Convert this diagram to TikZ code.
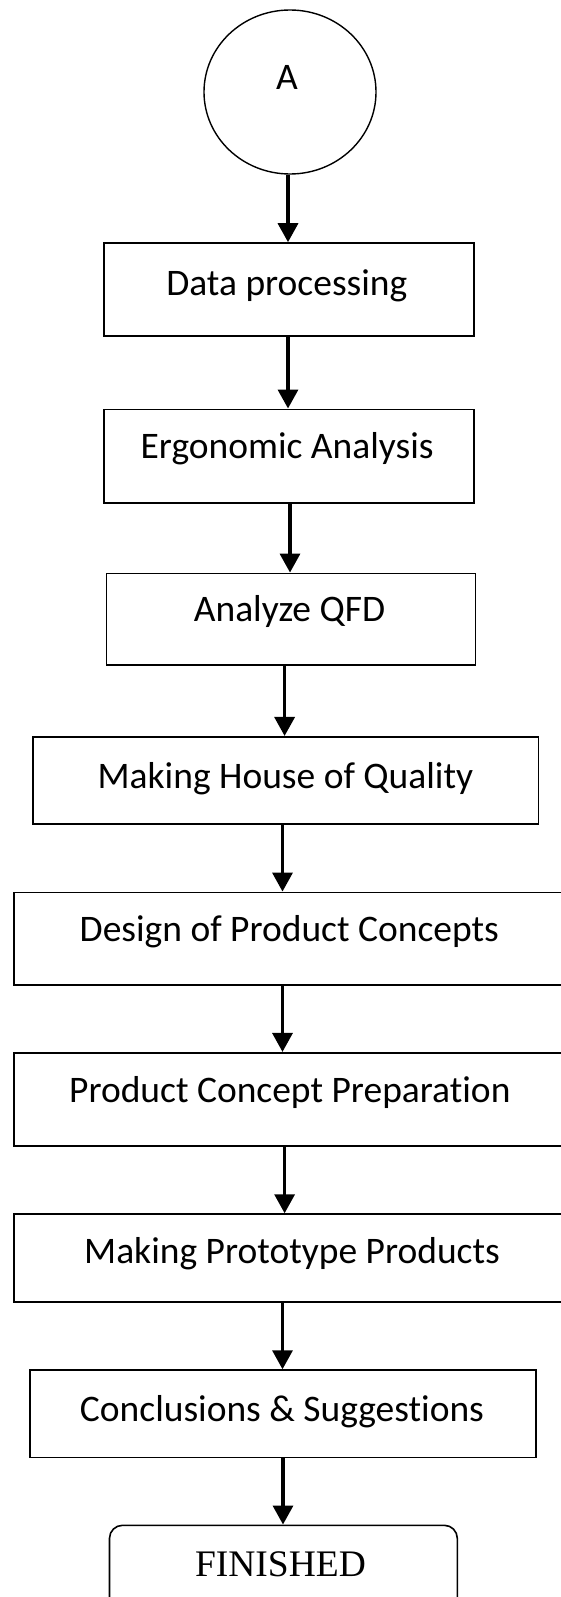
\documentclass[tikz,border=0pt]{standalone}
\usepackage{fontspec}
\setmainfont{Carlito}[Ligatures={NoCommon}]
\newfontfamily\finfont{Liberation Serif}
\newcommand{\nolig}{\kern0pt }
\usetikzlibrary{arrows.meta,shapes.geometric}
\begin{document}
\begin{tikzpicture}[x=1pt,y=-1pt,
  stepbox/.style={draw=black, line width=1.6pt, rectangle, inner sep=0pt},
  lbl/.style={anchor=base, inner sep=0pt, font=\fontsize{37.5}{40}\selectfont},
  arr/.style={line width=3.4pt, -{Triangle[width=20pt,length=19pt]}}]
\useasboundingbox (0,0) rectangle (561,1597);
\clip (0,0) rectangle (561,1597);
\fill[white] (0,0) rectangle (561,1597);

\node[draw, ellipse, line width=1.4pt, minimum width=172pt, minimum height=164pt, inner sep=0pt] (c) at (290,92) {};
\node[lbl] (tA) at (287,89.3) {A};

\node[stepbox, minimum width=370pt, minimum height=93pt] (b1) at (288.75,289.5) {};
\node[lbl] (t1) at (286.8,295) {Data processing};

\node[stepbox, minimum width=370pt, minimum height=93.4pt] (b2) at (288.9,456) {};
\node[lbl] (t2) at (287.1,458.3) {Ergonomic Analysis};

\node[stepbox, minimum width=369.2pt, minimum height=91.7pt] (b3) at (290.9,619.2) {};
\node[lbl] (t3) at (289.5,621.7) {Analyze QFD};

\node[stepbox, minimum width=505.8pt, minimum height=87.3pt] (b4) at (285.7,780.4) {};
\node[lbl] (t4) at (285.4,788.3) {Making House of Quality};

\node[stepbox, minimum width=560.7pt, minimum height=92.7pt] (b5) at (294.6,938.7) {};
\node[lbl] (t5) at (289.3,941.7) {Design of Product Concepts};

\node[stepbox, minimum width=560.7pt, minimum height=93pt] (b6) at (294.6,1099.2) {};
\node[lbl] (t6) at (289.8,1102.3) {Product Concept Preparat\nolig ion};

\node[stepbox, minimum width=560.7pt, minimum height=87.7pt] (b7) at (294.6,1257.9) {};
\node[lbl] (t7) at (292,1263.3) {Making Prototype Products};

\node[stepbox, minimum width=506pt, minimum height=87.3pt] (b8) at (283,1413.7) {};
\node[lbl] (t8) at (282,1421.7) {Conclusions \& Suggest\nolig ions};

\node[stepbox, rounded corners=13pt, minimum width=347.8pt, minimum height=90pt] (b9) at (283.4,1570.3) {};
\node[lbl, font=\finfont\fontsize{37.5}{40}\selectfont] (t9) at (280.5,1576.7) {FINISHED};

\draw[arr] ([xshift=-2pt]c.south) -- ([xshift=-2pt]c.south |- b1.north);
\draw[arr] ([xshift=-0.75pt]b1.south) -- ([xshift=-0.75pt]b1.south |- b2.north);
\draw[arr] ([xshift=1.1pt]b2.south) -- ([xshift=1.1pt]b2.south |- b3.north);
\draw[arr] ([xshift=-6.3pt]b3.south) -- ([xshift=-6.3pt]b3.south |- b4.north);
\draw[arr] ([xshift=-3.2pt]b4.south) -- ([xshift=-3.2pt]b4.south |- b5.north);
\draw[arr] ([xshift=-12.1pt]b5.south) -- ([xshift=-12.1pt]b5.south |- b6.north);
\draw[arr] ([xshift=-10pt]b6.south) -- ([xshift=-10pt]b6.south |- b7.north);
\draw[arr] ([xshift=-12.1pt]b7.south) -- ([xshift=-12.1pt]b7.south |- b8.north);
\draw[arr] (b8.south) -- (b8.south |- b9.north);
\end{tikzpicture}
\end{document}
